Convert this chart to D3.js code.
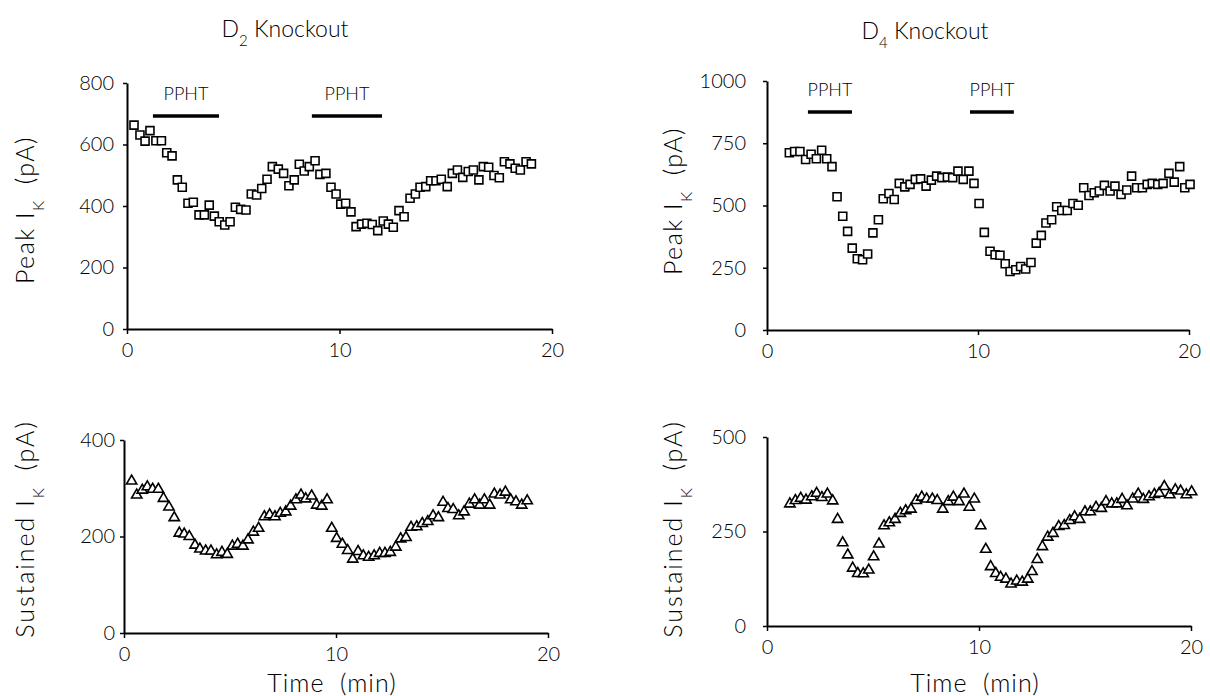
<!DOCTYPE html>
<html>
<head>
<meta charset="utf-8">
<script src="https://cdn.jsdelivr.net/npm/d3@7"></script>
<style>
  body { margin: 0; background: #fff; }
  svg text { font-family: Lato, "DejaVu Sans", sans-serif; font-weight: 300; fill: #000; }
</style>
</head>
<body>
<div id="chart"></div>
<script>
const width = 1210;
const height = 696;

// D2 knockout, peak IK (pA)
const d2PeakTime = [0.33,0.61,0.85,1.08,1.36,1.62,1.87,2.12,2.37,2.6,2.87,3.12,3.39,3.64,3.87,4.11,4.34,4.6,4.85,5.1,5.35,5.6,5.85,6.1,6.34,6.59,6.84,7.12,7.37,7.62,7.87,8.11,8.34,8.58,8.85,9.08,9.36,9.6,9.84,
  10.06,10.29,10.54,10.78,11.04,11.29,11.54,11.8,12.06,12.3,12.53,12.8,13.04,13.32,13.57,13.79,14.06,14.29,14.54,14.79,15.07,15.31,15.55,15.8,16.06,16.3,16.56,16.77,17.02,17.27,17.52,17.76,18.02,18.27,18.51,18.78,19.03];
const d2PeakValue = [663,631,611,645,612,612,573,563,485,461,409,412,371,371,403,367,349,338,349,396,389,387,439,436,457,487,528,520,506,466,485,536,514,528,547,503,506,461,439,
  406,409,381,333,341,344,340,320,351,341,331,385,365,425,439,461,463,482,482,487,463,506,517,493,512,517,485,528,526,499,492,544,537,523,517,544,537];

// D2 knockout, sustained IK (pA)
const d2SustTime = [0.36,0.6,0.86,1.1,1.35,1.62,1.86,2.12,2.37,2.61,2.84,3.08,3.35,3.58,3.85,4.1,4.37,4.62,4.87,5.11,5.36,5.61,5.85,6.1,6.35,6.62,6.87,7.12,7.37,7.63,7.86,8.11,8.35,8.57,8.85,9.09,9.33,9.58,
  9.8,10.03,10.3,10.55,10.79,11.04,11.29,11.54,11.8,12.06,12.31,12.56,12.82,13.05,13.3,13.54,13.81,14.07,14.33,14.58,14.83,15.05,15.28,15.53,15.79,16.04,16.29,16.54,16.78,17.0,17.25,17.47,17.74,17.99,18.24,18.49,18.76,19.02];
const d2SustValue = [315,286,296,303,298,298,279,261,239,207,205,200,182,174,170,170,162,167,163,180,184,180,193,209,217,241,245,241,248,251,263,276,286,278,284,265,263,276,
  217,196,184,171,153,169,160,157,160,165,165,167,178,195,198,219,220,227,231,243,239,271,258,256,243,251,267,276,265,276,265,288,286,292,276,272,265,274];

// D4 knockout, peak IK (pA)
const d4PeakTime = [1.06,1.31,1.56,1.83,2.09,2.34,2.59,2.83,3.08,3.32,3.59,3.82,4.04,4.28,4.53,4.77,5.02,5.28,5.51,5.78,6.03,6.27,6.53,6.78,7.03,7.28,7.54,7.79,8.04,8.29,8.55,8.8,9.05,9.3,9.57,9.81,
  10.05,10.3,10.57,10.81,11.04,11.29,11.52,11.79,12.02,12.26,12.51,12.76,13.0,13.22,13.49,13.73,13.97,14.23,14.5,14.75,15.01,15.26,15.51,15.75,15.99,16.26,16.49,16.78,17.05,17.28,17.52,17.79,18.02,18.26,18.52,18.77,19.05,19.3,19.56,19.8,20.05];
const d4PeakValue = [712,717,717,685,706,688,722,688,656,535,457,396,329,286,282,305,390,443,527,548,524,589,575,585,605,607,578,602,618,612,614,612,638,605,638,589,
  508,392,316,302,300,266,235,242,255,245,271,349,380,430,443,495,480,480,508,501,571,540,551,558,581,558,578,544,562,618,571,571,585,589,585,589,629,594,656,571,585];

// D4 knockout, sustained IK (pA)
const d4SustTime = [1.08,1.34,1.59,1.84,2.11,2.34,2.59,2.85,3.1,3.33,3.57,3.81,4.04,4.28,4.54,4.8,5.03,5.28,5.52,5.77,6.04,6.29,6.54,6.79,7.04,7.3,7.53,7.8,8.03,8.29,8.55,8.79,9.06,9.29,9.54,9.78,
  10.08,10.32,10.55,10.79,11.02,11.27,11.51,11.78,12.04,12.3,12.5,12.75,12.99,13.24,13.49,13.76,14.02,14.28,14.51,14.75,15.0,15.25,15.52,15.77,15.99,16.26,16.5,16.75,16.98,17.25,17.51,17.75,18.02,18.27,18.5,18.74,19.0,19.26,19.51,19.78,20.03];
const d4SustValue = [323,332,338,333,342,351,340,349,331,282,220,188,153,139,138,148,183,217,265,273,282,298,305,309,332,341,336,336,332,309,329,341,329,349,314,336,
  265,203,157,139,129,124,111,119,116,124,144,176,210,235,245,263,266,279,289,282,302,302,314,311,329,323,323,335,318,336,349,335,342,348,351,369,347,360,357,347,355];

// drug application periods (min)
const d2Pphtt = [[1.22, 4.33], [8.7, 12.0]];
const d4Pphtt = [[1.94, 4.03], [9.62, 11.7]];

const xTicks = [0, 10, 20];
const d2PeakTicks = [0, 200, 400, 600, 800];
const d2SustTicks = [0, 200, 400];
const d4PeakTicks = [0, 250, 500, 750, 1000];
const d4SustTicks = [0, 250, 500];

const svg = d3.select('#chart')
  .append('svg')
    .attr('width', width)
    .attr('height', height);

const square = d3.symbol().type(d3.symbolSquare).size(64);
const triangle = d3.symbol().type(d3.symbolTriangle).size(46);

function drawPanel(p) {
  const x = d3.scaleLinear().domain([0, 20]).range([p.x0, p.x1]);
  const y = d3.scaleLinear().domain([0, p.ymax]).range([p.y0, p.y1]);
  const g = svg.append('g');

  // axes
  const xAxis = g.append('g')
    .attr('transform', `translate(0,${p.y0})`)
    .call(d3.axisBottom(x).tickValues(xTicks).tickSize(5).tickSizeOuter(0).tickPadding(9));
  const yAxis = g.append('g')
    .attr('transform', `translate(${p.x0},0)`)
    .call(d3.axisLeft(y).tickValues(p.ticks).tickFormat(d3.format('d')).tickSize(4).tickSizeOuter(0).tickPadding(p.pad));
  [xAxis, yAxis].forEach(a => {
    a.select('.domain').attr('stroke', '#000').attr('stroke-width', 2);
    a.selectAll('.tick line').attr('stroke', '#000').attr('stroke-width', 1.5);
    a.selectAll('.tick text').style('font-size', '20px');
  });

  // data markers
  const pts = p.time.map((t, i) => ({ t: t, v: p.value[i] }));
  g.append('g').selectAll('path')
    .data(pts)
    .enter()
    .append('path')
      .attr('d', p.shape)
      .attr('transform', d => `translate(${x(d.t)},${y(d.v)})`)
      .attr('fill', '#fff')
      .attr('stroke', '#000')
      .attr('stroke-width', 1.6);

  // PPHT bars
  if (p.bars) {
    p.bars.forEach(b => {
      g.append('line')
        .attr('x1', x(b[0])).attr('x2', x(b[1]))
        .attr('y1', p.barY).attr('y2', p.barY)
        .attr('stroke', '#000').attr('stroke-width', 3.5);
      g.append('text')
        .attr('x', x((b[0] + b[1]) / 2))
        .attr('y', p.barY - 16)
        .attr('text-anchor', 'middle')
        .style('font-size', '18px')
        .text('PPHT');
    });
  }

  // y title
  const yt = g.append('text')
    .attr('transform', `translate(${p.titleX},${p.titleY}) rotate(-90)`)
    .attr('text-anchor', 'middle')
    .attr('xml:space', 'preserve')
    .style('font-size', '25px')
    .style('letter-spacing', p.spacing);
  yt.append('tspan').text(p.label);
  yt.append('tspan').attr('baseline-shift', 'sub').style('font-size', '16px').style('letter-spacing', '0px').text('K');
  yt.append('tspan').text('  (pA)');

  if (p.xTitle) {
    g.append('text')
      .attr('x', (p.x0 + p.x1) / 2 - 4)
      .attr('y', 692)
      .attr('text-anchor', 'middle')
      .attr('xml:space', 'preserve')
      .style('font-size', '25px')
      .style('letter-spacing', '1px')
      .text('Time  (min)');
  }
}

drawPanel({ time: d2PeakTime, value: d2PeakValue, ymax: 800, ticks: d2PeakTicks, x0: 127, x1: 552, y0: 329, y1: 83,
  pad: 9, shape: square, bars: d2Pphtt, barY: 116, label: 'Peak I', titleX: 34, titleY: 210, spacing: '1.5px' });
drawPanel({ time: d2SustTime, value: d2SustValue, ymax: 400, ticks: d2SustTicks, x0: 124, x1: 548, y0: 633, y1: 440,
  pad: 5, shape: triangle, label: 'Sustained I', titleX: 34, titleY: 529, spacing: '2px', xTitle: true });
drawPanel({ time: d4PeakTime, value: d4PeakValue, ymax: 1000, ticks: d4PeakTicks, x0: 767, x1: 1189, y0: 330, y1: 81,
  pad: 17, shape: square, bars: d4Pphtt, barY: 112, label: 'Peak I', titleX: 682, titleY: 201, spacing: '1.5px' });
drawPanel({ time: d4SustTime, value: d4SustValue, ymax: 500, ticks: d4SustTicks, x0: 767, x1: 1191, y0: 626, y1: 437,
  pad: 17, shape: triangle, label: 'Sustained I', titleX: 682, titleY: 529, spacing: '2px', xTitle: true });

// panel titles
[['2', 285, 37], ['4', 925, 39]].forEach(t => {
  const tt = svg.append('text')
    .attr('x', t[1]).attr('y', t[2])
    .attr('text-anchor', 'middle')
    .style('font-size', '23px');
  tt.append('tspan').text('D');
  tt.append('tspan').attr('baseline-shift', 'sub').style('font-size', '15px').text(t[0]);
  tt.append('tspan').text(' Knockout');
});
</script>
</body>
</html>
